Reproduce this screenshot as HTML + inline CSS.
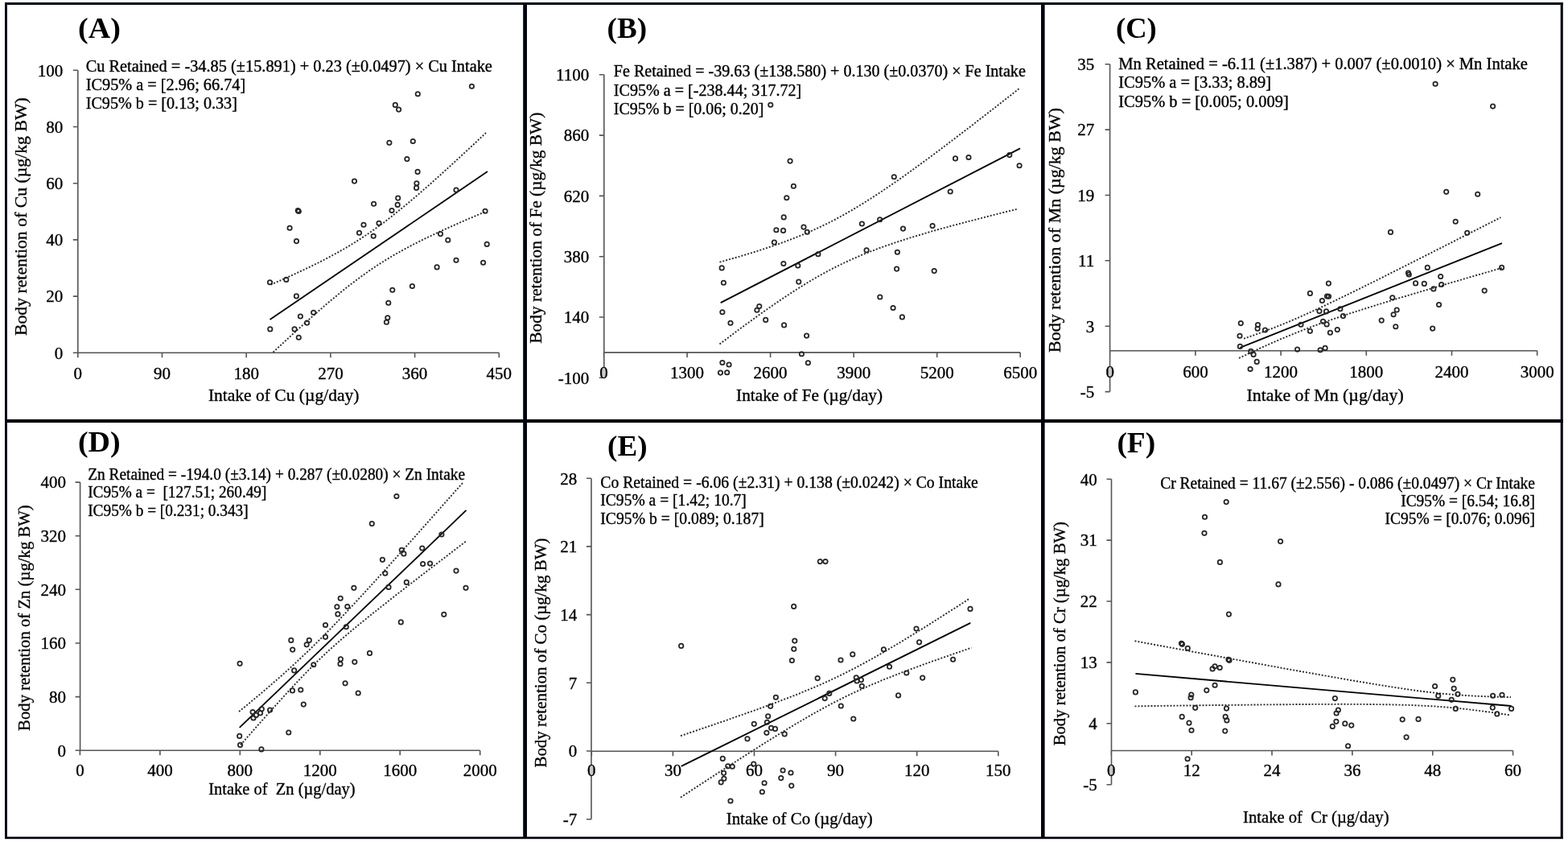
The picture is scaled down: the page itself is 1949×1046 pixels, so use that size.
<!DOCTYPE html>
<html><head><meta charset="utf-8"><title>Body retention vs intake</title>
<style>html,body{margin:0;padding:0;background:#fff;overflow:hidden}svg{display:block}</style>
</head><body>
<svg width="1949" height="1046" viewBox="0 0 1949 1046" font-family="'Liberation Serif','Times New Roman',serif" xml:space="preserve">
<rect width="1949" height="1046" fill="#fff"/>
<style>.t{stroke:#000;stroke-width:0.35px}</style>
<text x="97.1" y="47.0" font-size="35" font-weight="bold" textLength="52.9" lengthAdjust="spacingAndGlyphs">(A)</text>
<text x="106.7" y="88.9" font-size="20" textLength="505.2" lengthAdjust="spacingAndGlyphs" class="t">Cu Retained = -34.85 (±15.891) + 0.23 (±0.0497) × Cu Intake</text>
<text x="106.7" y="111.9" font-size="20" textLength="198.6" lengthAdjust="spacingAndGlyphs" class="t">IC95% a = [2.96; 66.74]</text>
<text x="106.7" y="134.9" font-size="20" textLength="188.2" lengthAdjust="spacingAndGlyphs" class="t">IC95% b = [0.13; 0.33]</text>
<path d="M96.8,87.3V438.3M90.8,438.3H96.8M90.8,368.1H96.8M90.8,297.9H96.8M90.8,227.7H96.8M90.8,157.5H96.8M90.8,87.3H96.8M96.8,438.3H620.3M96.8,438.3V444.3M201.5,438.3V444.3M306.2,438.3V444.3M410.9,438.3V444.3M515.6,438.3V444.3M620.3,438.3V444.3" stroke="#555" stroke-width="1.6" fill="none"/>
<text x="78.3" y="445.6" font-size="21" text-anchor="end" class="t">0</text>
<text x="78.3" y="375.4" font-size="21" text-anchor="end" class="t">20</text>
<text x="78.3" y="305.2" font-size="21" text-anchor="end" class="t">40</text>
<text x="78.3" y="235.0" font-size="21" text-anchor="end" class="t">60</text>
<text x="78.3" y="164.8" font-size="21" text-anchor="end" class="t">80</text>
<text x="78.3" y="94.6" font-size="21" text-anchor="end" class="t">100</text>
<text x="96.8" y="471.0" font-size="21" text-anchor="middle" class="t">0</text>
<text x="201.5" y="471.0" font-size="21" text-anchor="middle" class="t">90</text>
<text x="306.2" y="471.0" font-size="21" text-anchor="middle" class="t">180</text>
<text x="410.9" y="471.0" font-size="21" text-anchor="middle" class="t">270</text>
<text x="515.6" y="471.0" font-size="21" text-anchor="middle" class="t">360</text>
<text x="620.3" y="471.0" font-size="21" text-anchor="middle" class="t">450</text>
<text x="258.9" y="498.2" font-size="22" textLength="187.5" lengthAdjust="spacingAndGlyphs" class="t">Intake of Cu (µg/day)</text>
<text x="33.4" y="417.1" font-size="22" textLength="295.8" lengthAdjust="spacingAndGlyphs" transform="rotate(-90 33.4 417.1)" class="t">Body retention of Cu (µg/kg BW)</text>
<path d="M335.5,397.1L606,213.1" stroke="#000" stroke-width="1.8" fill="none"/>
<polyline points="336.5,353.7 341.0,351.7 345.6,349.7 350.1,347.7 354.6,345.7 359.2,343.7 363.7,341.6 368.2,339.5 372.8,337.4 377.3,335.3 381.8,333.1 386.4,330.9 390.9,328.7 395.4,326.5 400.0,324.2 404.5,321.8 409.0,319.5 413.6,317.0 418.1,314.6 422.6,312.0 427.2,309.5 431.7,306.8 436.2,304.1 440.8,301.3 445.3,298.4 449.8,295.5 454.4,292.5 458.9,289.4 463.4,286.3 468.0,283.0 472.5,279.7 477.1,276.4 481.6,272.9 486.1,269.4 490.7,265.8 495.2,262.2 499.7,258.5 504.3,254.8 508.8,251.0 513.3,247.2 517.9,243.3 522.4,239.4 526.9,235.4 531.5,231.5 536.0,227.5 540.5,223.4 545.1,219.4 549.6,215.3 554.1,211.2 558.7,207.1 563.2,202.9 567.7,198.8 572.3,194.6 576.8,190.4 581.3,186.2 585.9,182.0 590.4,177.8 594.9,173.5 599.5,169.3 604.0,165.0" stroke="#2a2a2a" stroke-width="1.9" fill="none" stroke-dasharray="2 2"/>
<polyline points="339.5,437.6 344.0,433.4 348.5,429.3 352.9,425.1 357.4,421.0 361.9,416.9 366.4,412.8 370.9,408.7 375.4,404.7 379.8,400.7 384.3,396.6 388.8,392.7 393.3,388.7 397.8,384.8 402.3,380.9 406.7,377.1 411.2,373.3 415.7,369.6 420.2,365.9 424.7,362.2 429.2,358.6 433.6,355.1 438.1,351.6 442.6,348.2 447.1,344.9 451.6,341.6 456.1,338.4 460.5,335.3 465.0,332.3 469.5,329.3 474.0,326.4 478.5,323.6 483.0,320.9 487.4,318.2 491.9,315.6 496.4,313.1 500.9,310.6 505.4,308.2 509.9,305.8 514.3,303.4 518.8,301.2 523.3,298.9 527.8,296.7 532.3,294.5 536.8,292.4 541.2,290.3 545.7,288.2 550.2,286.1 554.7,284.1 559.2,282.1 563.7,280.1 568.1,278.1 572.6,276.1 577.1,274.1 581.6,272.2 586.1,270.3 590.6,268.4 595.0,266.5 599.5,264.6 604.0,262.7" stroke="#2a2a2a" stroke-width="1.9" fill="none" stroke-dasharray="2 2"/>
<g fill="none" stroke="#262626" stroke-width="1.75">
<circle cx="586.4" cy="107.2" r="2.7"/>
<circle cx="519.3" cy="116.7" r="2.7"/>
<circle cx="491.3" cy="130.4" r="2.7"/>
<circle cx="495.6" cy="136.1" r="2.7"/>
<circle cx="483.9" cy="177.3" r="2.7"/>
<circle cx="513.3" cy="175.5" r="2.7"/>
<circle cx="505.9" cy="197.6" r="2.7"/>
<circle cx="519.1" cy="213.4" r="2.7"/>
<circle cx="440.5" cy="225.1" r="2.7"/>
<circle cx="517.9" cy="227.7" r="2.7"/>
<circle cx="517.6" cy="233.4" r="2.7"/>
<circle cx="567.0" cy="236.0" r="2.7"/>
<circle cx="494.7" cy="246.1" r="2.7"/>
<circle cx="494.2" cy="254.4" r="2.7"/>
<circle cx="464.6" cy="253.2" r="2.7"/>
<circle cx="487.0" cy="261.5" r="2.7"/>
<circle cx="370.3" cy="261.5" r="2.7"/>
<circle cx="371.3" cy="262.5" r="2.7"/>
<circle cx="603.1" cy="262.2" r="2.7"/>
<circle cx="360.1" cy="283.2" r="2.7"/>
<circle cx="452.0" cy="279.3" r="2.7"/>
<circle cx="471.0" cy="277.2" r="2.7"/>
<circle cx="446.5" cy="289.3" r="2.7"/>
<circle cx="464.2" cy="293.2" r="2.7"/>
<circle cx="368.5" cy="299.6" r="2.7"/>
<circle cx="547.5" cy="290.6" r="2.7"/>
<circle cx="556.8" cy="298.2" r="2.7"/>
<circle cx="605.2" cy="303.4" r="2.7"/>
<circle cx="567.0" cy="323.2" r="2.7"/>
<circle cx="600.6" cy="326.3" r="2.7"/>
<circle cx="543.1" cy="331.9" r="2.7"/>
<circle cx="335.5" cy="350.7" r="2.7"/>
<circle cx="355.8" cy="347.4" r="2.7"/>
<circle cx="512.4" cy="355.5" r="2.7"/>
<circle cx="487.8" cy="360.2" r="2.7"/>
<circle cx="368.4" cy="367.9" r="2.7"/>
<circle cx="482.8" cy="376.2" r="2.7"/>
<circle cx="373.4" cy="393.0" r="2.7"/>
<circle cx="389.7" cy="388.2" r="2.7"/>
<circle cx="481.8" cy="394.8" r="2.7"/>
<circle cx="480.4" cy="400.3" r="2.7"/>
<circle cx="381.6" cy="401.1" r="2.7"/>
<circle cx="335.8" cy="408.9" r="2.7"/>
<circle cx="366.1" cy="408.9" r="2.7"/>
<circle cx="371.3" cy="419.2" r="2.7"/>
</g>
<text x="754.6" y="46.6" font-size="35" font-weight="bold" textLength="49.5" lengthAdjust="spacingAndGlyphs">(B)</text>
<text x="762.8" y="95.3" font-size="20" textLength="512.0" lengthAdjust="spacingAndGlyphs" class="t">Fe Retained = -39.63 (±138.580) + 0.130 (±0.0370) × Fe Intake</text>
<text x="762.8" y="119.0" font-size="20" textLength="233.5" lengthAdjust="spacingAndGlyphs" class="t">IC95% a = [-238.44; 317.72]</text>
<text x="762.8" y="142.2" font-size="20" textLength="186.7" lengthAdjust="spacingAndGlyphs" class="t">IC95% b = [0.06; 0.20]</text>
<path d="M750.8,92.8V469.3M744.8,469.3H750.8M744.8,394.0H750.8M744.8,318.7H750.8M744.8,243.4H750.8M744.8,168.1H750.8M744.8,92.8H750.8M750.8,437.9H1268.2M750.6,437.9V443.9M854.1,437.9V443.9M957.6,437.9V443.9M1061.2,437.9V443.9M1164.7,437.9V443.9M1268.2,437.9V443.9" stroke="#555" stroke-width="1.6" fill="none"/>
<text x="732.2" y="476.6" font-size="21" text-anchor="end" class="t">-100</text>
<text x="732.2" y="401.3" font-size="21" text-anchor="end" class="t">140</text>
<text x="732.2" y="326.0" font-size="21" text-anchor="end" class="t">380</text>
<text x="732.2" y="250.7" font-size="21" text-anchor="end" class="t">620</text>
<text x="732.2" y="175.4" font-size="21" text-anchor="end" class="t">860</text>
<text x="732.2" y="100.1" font-size="21" text-anchor="end" class="t">1100</text>
<ellipse cx="750.6" cy="463.1" rx="3" ry="6" fill="#c8c8c8"/>
<text x="750.6" y="470.4" font-size="21" text-anchor="middle" class="t">0</text>
<text x="854.1" y="470.4" font-size="21" text-anchor="middle" class="t">1300</text>
<text x="957.6" y="470.4" font-size="21" text-anchor="middle" class="t">2600</text>
<text x="1061.2" y="470.4" font-size="21" text-anchor="middle" class="t">3900</text>
<text x="1164.7" y="470.4" font-size="21" text-anchor="middle" class="t">5200</text>
<text x="1268.2" y="470.4" font-size="21" text-anchor="middle" class="t">6500</text>
<text x="915.1" y="497.5" font-size="22" textLength="182.0" lengthAdjust="spacingAndGlyphs" class="t">Intake of Fe (µg/day)</text>
<text x="673.0" y="426.7" font-size="22" textLength="287.1" lengthAdjust="spacingAndGlyphs" transform="rotate(-90 673.0 426.7)" class="t">Body retention of Fe (µg/kg BW)</text>
<path d="M895.7,376.1L1268,184.4" stroke="#000" stroke-width="1.8" fill="none"/>
<polyline points="894.5,325.7 900.8,323.9 907.1,322.1 913.5,320.3 919.8,318.5 926.1,316.6 932.4,314.7 938.8,312.7 945.1,310.7 951.4,308.6 957.7,306.5 964.0,304.4 970.4,302.1 976.7,299.8 983.0,297.4 989.3,295.0 995.7,292.4 1002.0,289.8 1008.3,287.0 1014.6,284.2 1020.9,281.2 1027.3,278.2 1033.6,275.0 1039.9,271.7 1046.2,268.2 1052.6,264.7 1058.9,261.1 1065.2,257.3 1071.5,253.5 1077.8,249.5 1084.2,245.5 1090.5,241.4 1096.8,237.2 1103.1,232.9 1109.4,228.6 1115.8,224.2 1122.1,219.8 1128.4,215.3 1134.7,210.7 1141.1,206.1 1147.4,201.5 1153.7,196.9 1160.0,192.2 1166.3,187.5 1172.7,182.7 1179.0,177.9 1185.3,173.1 1191.6,168.3 1198.0,163.5 1204.3,158.7 1210.6,153.8 1216.9,148.9 1223.2,144.0 1229.6,139.1 1235.9,134.2 1242.2,129.3 1248.5,124.4 1254.9,119.4 1261.2,114.5 1267.5,109.5" stroke="#2a2a2a" stroke-width="1.9" fill="none" stroke-dasharray="2 2"/>
<polyline points="894.5,427.4 900.8,422.7 907.1,418.0 913.3,413.3 919.6,408.6 925.9,404.0 932.2,399.4 938.5,394.9 944.7,390.4 951.0,385.9 957.3,381.5 963.6,377.2 969.9,372.9 976.1,368.7 982.4,364.6 988.7,360.5 995.0,356.5 1001.3,352.6 1007.5,348.9 1013.8,345.2 1020.1,341.6 1026.4,338.2 1032.7,334.8 1038.9,331.6 1045.2,328.5 1051.5,325.5 1057.8,322.6 1064.1,319.8 1070.3,317.2 1076.6,314.6 1082.9,312.1 1089.2,309.7 1095.4,307.4 1101.7,305.2 1108.0,303.0 1114.3,300.9 1120.6,298.8 1126.8,296.8 1133.1,294.9 1139.4,293.0 1145.7,291.1 1152.0,289.2 1158.2,287.4 1164.5,285.6 1170.8,283.9 1177.1,282.2 1183.4,280.4 1189.6,278.8 1195.9,277.1 1202.2,275.4 1208.5,273.8 1214.8,272.2 1221.0,270.6 1227.3,269.0 1233.6,267.4 1239.9,265.8 1246.2,264.2 1252.4,262.7 1258.7,261.1 1265.0,259.6" stroke="#2a2a2a" stroke-width="1.9" fill="none" stroke-dasharray="2 2"/>
<g fill="none" stroke="#262626" stroke-width="1.75">
<circle cx="957.8" cy="130.2" r="2.7"/>
<circle cx="982.1" cy="200.1" r="2.7"/>
<circle cx="986.4" cy="231.2" r="2.7"/>
<circle cx="977.8" cy="245.7" r="2.7"/>
<circle cx="974.2" cy="269.9" r="2.7"/>
<circle cx="964.9" cy="285.7" r="2.7"/>
<circle cx="973.6" cy="286.4" r="2.7"/>
<circle cx="999.0" cy="282.1" r="2.7"/>
<circle cx="1003.3" cy="288.2" r="2.7"/>
<circle cx="962.4" cy="301.1" r="2.7"/>
<circle cx="1016.9" cy="315.8" r="2.7"/>
<circle cx="973.9" cy="327.5" r="2.7"/>
<circle cx="991.8" cy="330.0" r="2.7"/>
<circle cx="992.8" cy="350.1" r="2.7"/>
<circle cx="897.2" cy="332.9" r="2.7"/>
<circle cx="899.4" cy="351.3" r="2.7"/>
<circle cx="897.9" cy="387.8" r="2.7"/>
<circle cx="908.0" cy="401.3" r="2.7"/>
<circle cx="943.8" cy="380.5" r="2.7"/>
<circle cx="940.9" cy="385.2" r="2.7"/>
<circle cx="951.7" cy="397.4" r="2.7"/>
<circle cx="974.6" cy="403.9" r="2.7"/>
<circle cx="1002.6" cy="417.1" r="2.7"/>
<circle cx="996.4" cy="439.7" r="2.7"/>
<circle cx="1004.4" cy="450.8" r="2.7"/>
<circle cx="897.9" cy="450.5" r="2.7"/>
<circle cx="906.1" cy="453.0" r="2.7"/>
<circle cx="895.5" cy="463.1" r="2.7"/>
<circle cx="903.7" cy="462.7" r="2.7"/>
<circle cx="1071.4" cy="278.0" r="2.7"/>
<circle cx="1077.1" cy="310.9" r="2.7"/>
<circle cx="1111.3" cy="219.7" r="2.7"/>
<circle cx="1187.5" cy="196.9" r="2.7"/>
<circle cx="1204.0" cy="195.5" r="2.7"/>
<circle cx="1254.8" cy="192.6" r="2.7"/>
<circle cx="1267.1" cy="205.7" r="2.7"/>
<circle cx="1181.2" cy="238.0" r="2.7"/>
<circle cx="1093.7" cy="272.7" r="2.7"/>
<circle cx="1122.5" cy="284.1" r="2.7"/>
<circle cx="1159.1" cy="280.6" r="2.7"/>
<circle cx="1115.4" cy="313.3" r="2.7"/>
<circle cx="1114.6" cy="334.1" r="2.7"/>
<circle cx="1161.2" cy="336.6" r="2.7"/>
<circle cx="1093.8" cy="369.0" r="2.7"/>
<circle cx="1110.1" cy="382.5" r="2.7"/>
<circle cx="1121.4" cy="393.9" r="2.7"/>
</g>
<text x="1387.0" y="46.8" font-size="35" font-weight="bold" textLength="50.8" lengthAdjust="spacingAndGlyphs">(C)</text>
<text x="1390.3" y="86.0" font-size="20" textLength="508.6" lengthAdjust="spacingAndGlyphs" class="t">Mn Retained = -6.11 (±1.387) + 0.007 (±0.0010) × Mn Intake</text>
<text x="1390.3" y="109.1" font-size="20" textLength="189.8" lengthAdjust="spacingAndGlyphs" class="t">IC95% a = [3.33; 8.89]</text>
<text x="1390.3" y="132.7" font-size="20" textLength="211.4" lengthAdjust="spacingAndGlyphs" class="t">IC95% b = [0.005; 0.009]</text>
<path d="M1379.6,79.8V486.6M1373.6,486.6H1379.6M1373.6,405.2H1379.6M1373.6,323.8H1379.6M1373.6,242.5H1379.6M1373.6,161.1H1379.6M1373.6,79.8H1379.6M1379.6,435.7H1910.7M1379.7,435.7V441.7M1485.9,435.7V441.7M1592.1,435.7V441.7M1698.3,435.7V441.7M1804.5,435.7V441.7M1910.7,435.7V441.7" stroke="#555" stroke-width="1.6" fill="none"/>
<text x="1360.2" y="493.9" font-size="21" text-anchor="end" class="t">-5</text>
<text x="1360.2" y="412.5" font-size="21" text-anchor="end" class="t">3</text>
<text x="1360.2" y="331.1" font-size="21" text-anchor="end" class="t">11</text>
<text x="1360.2" y="249.8" font-size="21" text-anchor="end" class="t">19</text>
<text x="1360.2" y="168.4" font-size="21" text-anchor="end" class="t">27</text>
<text x="1360.2" y="87.0" font-size="21" text-anchor="end" class="t">35</text>
<ellipse cx="1379.7" cy="461.2" rx="3" ry="6" fill="#c8c8c8"/>
<text x="1379.7" y="468.5" font-size="21" text-anchor="middle" class="t">0</text>
<text x="1485.9" y="468.5" font-size="21" text-anchor="middle" class="t">600</text>
<text x="1592.1" y="468.5" font-size="21" text-anchor="middle" class="t">1200</text>
<text x="1698.3" y="468.5" font-size="21" text-anchor="middle" class="t">1800</text>
<text x="1804.5" y="468.5" font-size="21" text-anchor="middle" class="t">2400</text>
<text x="1910.7" y="468.5" font-size="21" text-anchor="middle" class="t">3000</text>
<text x="1549.6" y="497.5" font-size="22" textLength="195.1" lengthAdjust="spacingAndGlyphs" class="t">Intake of Mn (µg/day)</text>
<text x="1317.8" y="437.9" font-size="22" textLength="303.9" lengthAdjust="spacingAndGlyphs" transform="rotate(-90 1317.8 437.9)" class="t">Body retention of Mn (µg/kg BW)</text>
<path d="M1541.4,431.9L1867,302.1" stroke="#000" stroke-width="1.8" fill="none"/>
<polyline points="1546.0,420.7 1551.4,418.9 1556.8,417.0 1562.2,415.1 1567.7,413.1 1573.1,411.1 1578.5,409.0 1583.9,407.0 1589.3,404.8 1594.7,402.6 1600.2,400.4 1605.6,398.1 1611.0,395.8 1616.4,393.4 1621.8,391.0 1627.2,388.6 1632.6,386.1 1638.1,383.6 1643.5,381.1 1648.9,378.5 1654.3,375.9 1659.7,373.4 1665.1,370.7 1670.6,368.1 1676.0,365.5 1681.4,362.8 1686.8,360.2 1692.2,357.5 1697.6,354.8 1703.0,352.1 1708.5,349.5 1713.9,346.8 1719.3,344.1 1724.7,341.3 1730.1,338.6 1735.5,335.9 1740.9,333.2 1746.4,330.5 1751.8,327.7 1757.2,325.0 1762.6,322.3 1768.0,319.6 1773.4,316.8 1778.9,314.1 1784.3,311.3 1789.7,308.6 1795.1,305.8 1800.5,303.1 1805.9,300.4 1811.3,297.6 1816.8,294.8 1822.2,292.1 1827.6,289.3 1833.0,286.6 1838.4,283.8 1843.8,281.1 1849.3,278.3 1854.7,275.6 1860.1,272.8 1865.5,270.0" stroke="#2a2a2a" stroke-width="1.9" fill="none" stroke-dasharray="2 2"/>
<polyline points="1540.0,444.9 1545.5,442.3 1551.1,439.7 1556.6,437.1 1562.2,434.5 1567.7,432.0 1573.3,429.5 1578.8,427.0 1584.3,424.6 1589.9,422.2 1595.4,419.8 1601.0,417.5 1606.5,415.3 1612.1,413.0 1617.6,410.8 1623.1,408.7 1628.7,406.6 1634.2,404.5 1639.8,402.5 1645.3,400.5 1650.8,398.6 1656.4,396.6 1661.9,394.8 1667.5,392.9 1673.0,391.1 1678.6,389.2 1684.1,387.4 1689.6,385.7 1695.2,383.9 1700.7,382.2 1706.3,380.4 1711.8,378.7 1717.4,377.0 1722.9,375.3 1728.4,373.6 1734.0,371.9 1739.5,370.2 1745.1,368.6 1750.6,366.9 1756.2,365.2 1761.7,363.6 1767.2,361.9 1772.8,360.3 1778.3,358.7 1783.9,357.0 1789.4,355.4 1794.9,353.8 1800.5,352.1 1806.0,350.5 1811.6,348.9 1817.1,347.3 1822.7,345.6 1828.2,344.0 1833.7,342.4 1839.3,340.8 1844.8,339.2 1850.4,337.6 1855.9,336.0 1861.5,334.4 1867.0,332.8" stroke="#2a2a2a" stroke-width="1.9" fill="none" stroke-dasharray="2 2"/>
<g fill="none" stroke="#262626" stroke-width="1.75">
<circle cx="1784.1" cy="104.2" r="2.7"/>
<circle cx="1855.6" cy="132.1" r="2.7"/>
<circle cx="1797.7" cy="238.3" r="2.7"/>
<circle cx="1836.7" cy="241.2" r="2.7"/>
<circle cx="1809.2" cy="275.3" r="2.7"/>
<circle cx="1728.5" cy="288.4" r="2.7"/>
<circle cx="1823.7" cy="289.3" r="2.7"/>
<circle cx="1774.3" cy="332.4" r="2.7"/>
<circle cx="1750.5" cy="339.0" r="2.7"/>
<circle cx="1751.3" cy="341.0" r="2.7"/>
<circle cx="1790.7" cy="343.5" r="2.7"/>
<circle cx="1759.6" cy="351.9" r="2.7"/>
<circle cx="1770.3" cy="352.4" r="2.7"/>
<circle cx="1791.7" cy="353.5" r="2.7"/>
<circle cx="1781.9" cy="358.9" r="2.7"/>
<circle cx="1866.6" cy="332.4" r="2.7"/>
<circle cx="1845.2" cy="361.1" r="2.7"/>
<circle cx="1730.8" cy="369.8" r="2.7"/>
<circle cx="1788.6" cy="378.5" r="2.7"/>
<circle cx="1736.2" cy="385.0" r="2.7"/>
<circle cx="1732.1" cy="390.7" r="2.7"/>
<circle cx="1717.2" cy="398.1" r="2.7"/>
<circle cx="1734.8" cy="405.7" r="2.7"/>
<circle cx="1780.7" cy="408.1" r="2.7"/>
<circle cx="1651.4" cy="352.1" r="2.7"/>
<circle cx="1628.4" cy="364.4" r="2.7"/>
<circle cx="1649.5" cy="368.0" r="2.7"/>
<circle cx="1651.5" cy="368.2" r="2.7"/>
<circle cx="1643.4" cy="373.5" r="2.7"/>
<circle cx="1640.0" cy="386.6" r="2.7"/>
<circle cx="1648.5" cy="386.9" r="2.7"/>
<circle cx="1665.9" cy="383.8" r="2.7"/>
<circle cx="1669.5" cy="392.6" r="2.7"/>
<circle cx="1617.0" cy="403.3" r="2.7"/>
<circle cx="1644.5" cy="399.3" r="2.7"/>
<circle cx="1649.1" cy="402.9" r="2.7"/>
<circle cx="1628.4" cy="411.2" r="2.7"/>
<circle cx="1653.4" cy="413.2" r="2.7"/>
<circle cx="1662.3" cy="409.6" r="2.7"/>
<circle cx="1542.3" cy="401.6" r="2.7"/>
<circle cx="1563.5" cy="403.6" r="2.7"/>
<circle cx="1563.1" cy="408.3" r="2.7"/>
<circle cx="1572.5" cy="410.0" r="2.7"/>
<circle cx="1541.0" cy="417.3" r="2.7"/>
<circle cx="1541.4" cy="430.4" r="2.7"/>
<circle cx="1554.8" cy="436.4" r="2.7"/>
<circle cx="1558.1" cy="440.4" r="2.7"/>
<circle cx="1562.2" cy="449.4" r="2.7"/>
<circle cx="1554.1" cy="458.5" r="2.7"/>
<circle cx="1612.6" cy="434.1" r="2.7"/>
<circle cx="1641.1" cy="434.7" r="2.7"/>
<circle cx="1647.1" cy="432.4" r="2.7"/>
</g>
<text x="96.9" y="561.0" font-size="35" font-weight="bold" textLength="52.7" lengthAdjust="spacingAndGlyphs">(D)</text>
<text x="109.2" y="595.6" font-size="20" textLength="468.8" lengthAdjust="spacingAndGlyphs" class="t">Zn Retained = -194.0 (±3.14) + 0.287 (±0.0280) × Zn Intake</text>
<text x="109.2" y="617.8" font-size="20" textLength="222.2" lengthAdjust="spacingAndGlyphs" class="t">IC95% a = &#160;[127.51; 260.49]</text>
<text x="109.2" y="640.5" font-size="20" textLength="199.5" lengthAdjust="spacingAndGlyphs" class="t">IC95% b = [0.231; 0.343]</text>
<path d="M99.6,599.1V932.2M93.6,932.2H99.6M93.6,865.6H99.6M93.6,799.0H99.6M93.6,732.3H99.6M93.6,665.7H99.6M93.6,599.1H99.6M99.6,932.2H596.7M99.4,932.2V938.2M198.9,932.2V938.2M298.3,932.2V938.2M397.8,932.2V938.2M497.2,932.2V938.2M596.7,932.2V938.2" stroke="#555" stroke-width="1.6" fill="none"/>
<text x="82.1" y="939.5" font-size="21" text-anchor="end" class="t">0</text>
<text x="82.1" y="872.9" font-size="21" text-anchor="end" class="t">80</text>
<text x="82.1" y="806.3" font-size="21" text-anchor="end" class="t">160</text>
<text x="82.1" y="739.6" font-size="21" text-anchor="end" class="t">240</text>
<text x="82.1" y="673.0" font-size="21" text-anchor="end" class="t">320</text>
<text x="82.1" y="606.4" font-size="21" text-anchor="end" class="t">400</text>
<text x="99.4" y="963.6" font-size="21" text-anchor="middle" class="t">0</text>
<text x="198.9" y="963.6" font-size="21" text-anchor="middle" class="t">400</text>
<text x="298.3" y="963.6" font-size="21" text-anchor="middle" class="t">800</text>
<text x="397.8" y="963.6" font-size="21" text-anchor="middle" class="t">1200</text>
<text x="497.2" y="963.6" font-size="21" text-anchor="middle" class="t">1600</text>
<text x="596.7" y="963.6" font-size="21" text-anchor="middle" class="t">2000</text>
<text x="259.2" y="987.2" font-size="22" textLength="182.4" lengthAdjust="spacingAndGlyphs" class="t">Intake of &#160;Zn (µg/day)</text>
<text x="37.5" y="907.9" font-size="22" textLength="280.6" lengthAdjust="spacingAndGlyphs" transform="rotate(-90 37.5 907.9)" class="t">Body retention of Zn (µg/kg BW)</text>
<path d="M297.7,903.8L579.5,633.9" stroke="#000" stroke-width="1.8" fill="none"/>
<polyline points="297.0,884.1 301.7,880.2 306.5,876.3 311.2,872.4 315.9,868.5 320.6,864.5 325.4,860.6 330.1,856.6 334.8,852.5 339.5,848.4 344.3,844.3 349.0,840.2 353.7,836.0 358.4,831.7 363.2,827.4 367.9,823.1 372.6,818.7 377.3,814.2 382.1,809.7 386.8,805.1 391.5,800.5 396.2,795.8 401.0,791.1 405.7,786.3 410.4,781.5 415.1,776.6 419.9,771.7 424.6,766.7 429.3,761.7 434.0,756.7 438.8,751.6 443.5,746.5 448.2,741.4 452.9,736.3 457.7,731.1 462.4,725.9 467.1,720.8 471.8,715.6 476.6,710.3 481.3,705.1 486.0,699.9 490.7,694.6 495.5,689.4 500.2,684.1 504.9,678.8 509.6,673.5 514.4,668.2 519.1,662.9 523.8,657.6 528.5,652.3 533.3,647.0 538.0,641.7 542.7,636.4 547.4,631.0 552.2,625.7 556.9,620.4 561.6,615.1 566.3,609.7 571.1,604.4 575.8,599.0" stroke="#2a2a2a" stroke-width="1.9" fill="none" stroke-dasharray="2 2"/>
<polyline points="299.0,925.3 303.8,919.9 308.5,914.5 313.3,909.1 318.1,903.7 322.8,898.4 327.6,893.0 332.3,887.7 337.1,882.4 341.9,877.1 346.6,871.8 351.4,866.6 356.2,861.4 360.9,856.2 365.7,851.1 370.4,846.1 375.2,841.1 380.0,836.1 384.7,831.3 389.5,826.5 394.3,821.8 399.0,817.3 403.8,812.7 408.5,808.3 413.3,804.0 418.1,799.8 422.8,795.6 427.6,791.5 432.4,787.4 437.1,783.4 441.9,779.4 446.6,775.5 451.4,771.7 456.2,767.8 460.9,764.0 465.7,760.2 470.5,756.4 475.2,752.6 480.0,748.9 484.7,745.1 489.5,741.4 494.3,737.7 499.0,734.0 503.8,730.3 508.6,726.6 513.3,723.0 518.1,719.3 522.8,715.6 527.6,711.9 532.4,708.3 537.1,704.6 541.9,701.0 546.7,697.3 551.4,693.7 556.2,690.1 560.9,686.4 565.7,682.8 570.5,679.1 575.2,675.5 580.0,671.9" stroke="#2a2a2a" stroke-width="1.9" fill="none" stroke-dasharray="2 2"/>
<g fill="none" stroke="#262626" stroke-width="1.75">
<circle cx="492.9" cy="616.5" r="2.7"/>
<circle cx="462.3" cy="650.6" r="2.7"/>
<circle cx="548.9" cy="664.0" r="2.7"/>
<circle cx="524.8" cy="681.0" r="2.7"/>
<circle cx="499.3" cy="683.3" r="2.7"/>
<circle cx="501.9" cy="687.9" r="2.7"/>
<circle cx="475.4" cy="695.3" r="2.7"/>
<circle cx="525.6" cy="700.5" r="2.7"/>
<circle cx="534.6" cy="700.0" r="2.7"/>
<circle cx="567.0" cy="709.1" r="2.7"/>
<circle cx="478.8" cy="712.2" r="2.7"/>
<circle cx="505.3" cy="723.4" r="2.7"/>
<circle cx="483.0" cy="729.4" r="2.7"/>
<circle cx="439.9" cy="730.3" r="2.7"/>
<circle cx="579.0" cy="730.3" r="2.7"/>
<circle cx="423.2" cy="743.2" r="2.7"/>
<circle cx="418.9" cy="753.8" r="2.7"/>
<circle cx="431.8" cy="753.5" r="2.7"/>
<circle cx="419.9" cy="762.9" r="2.7"/>
<circle cx="404.5" cy="776.5" r="2.7"/>
<circle cx="404.5" cy="791.3" r="2.7"/>
<circle cx="430.3" cy="778.7" r="2.7"/>
<circle cx="361.8" cy="795.4" r="2.7"/>
<circle cx="384.3" cy="795.4" r="2.7"/>
<circle cx="381.2" cy="800.8" r="2.7"/>
<circle cx="363.7" cy="807.1" r="2.7"/>
<circle cx="459.5" cy="811.4" r="2.7"/>
<circle cx="423.4" cy="818.8" r="2.7"/>
<circle cx="423.0" cy="824.7" r="2.7"/>
<circle cx="440.8" cy="822.3" r="2.7"/>
<circle cx="298.1" cy="824.3" r="2.7"/>
<circle cx="365.7" cy="832.9" r="2.7"/>
<circle cx="389.8" cy="825.7" r="2.7"/>
<circle cx="429.1" cy="848.8" r="2.7"/>
<circle cx="363.5" cy="857.9" r="2.7"/>
<circle cx="373.8" cy="857.0" r="2.7"/>
<circle cx="445.2" cy="861.0" r="2.7"/>
<circle cx="377.3" cy="875.1" r="2.7"/>
<circle cx="314.1" cy="884.6" r="2.7"/>
<circle cx="325.3" cy="880.8" r="2.7"/>
<circle cx="323.6" cy="885.8" r="2.7"/>
<circle cx="318.4" cy="888.4" r="2.7"/>
<circle cx="315.0" cy="892.0" r="2.7"/>
<circle cx="335.6" cy="882.0" r="2.7"/>
<circle cx="358.8" cy="910.0" r="2.7"/>
<circle cx="297.7" cy="914.4" r="2.7"/>
<circle cx="298.6" cy="925.4" r="2.7"/>
<circle cx="324.9" cy="930.9" r="2.7"/>
<circle cx="498.3" cy="772.9" r="2.7"/>
<circle cx="551.8" cy="763.3" r="2.7"/>
</g>
<text x="755.1" y="566.0" font-size="35" font-weight="bold" textLength="49.5" lengthAdjust="spacingAndGlyphs">(E)</text>
<text x="746.3" y="605.6" font-size="20" textLength="469.5" lengthAdjust="spacingAndGlyphs" class="t">Co Retained = -6.06 (±2.31) + 0.138 (±0.0242) × Co Intake</text>
<text x="746.3" y="628.3" font-size="20" textLength="181.6" lengthAdjust="spacingAndGlyphs" class="t">IC95% a = [1.42; 10.7]</text>
<text x="746.3" y="651.1" font-size="20" textLength="203.5" lengthAdjust="spacingAndGlyphs" class="t">IC95% b = [0.089; 0.187]</text>
<path d="M735.0,594.2V1017.7M729.0,1017.7H735.0M729.0,933.0H735.0M729.0,848.3H735.0M729.0,763.6H735.0M729.0,678.9H735.0M729.0,594.2H735.0M735.0,933.3H1240.8M735.3,933.3V939.3M836.4,933.3V939.3M937.5,933.3V939.3M1038.6,933.3V939.3M1139.7,933.3V939.3M1240.8,933.3V939.3" stroke="#555" stroke-width="1.6" fill="none"/>
<text x="717.2" y="1025.0" font-size="21" text-anchor="end" class="t">-7</text>
<text x="717.2" y="940.3" font-size="21" text-anchor="end" class="t">0</text>
<text x="717.2" y="855.6" font-size="21" text-anchor="end" class="t">7</text>
<text x="717.2" y="770.9" font-size="21" text-anchor="end" class="t">14</text>
<text x="717.2" y="686.2" font-size="21" text-anchor="end" class="t">21</text>
<text x="717.2" y="601.5" font-size="21" text-anchor="end" class="t">28</text>
<ellipse cx="735.3" cy="957.1" rx="3" ry="6" fill="#c8c8c8"/>
<text x="735.3" y="964.4" font-size="21" text-anchor="middle" class="t">0</text>
<text x="836.4" y="964.4" font-size="21" text-anchor="middle" class="t">30</text>
<text x="937.5" y="964.4" font-size="21" text-anchor="middle" class="t">60</text>
<text x="1038.6" y="964.4" font-size="21" text-anchor="middle" class="t">90</text>
<text x="1139.7" y="964.4" font-size="21" text-anchor="middle" class="t">120</text>
<text x="1240.8" y="964.4" font-size="21" text-anchor="middle" class="t">150</text>
<text x="902.7" y="1024.1" font-size="22" textLength="182.0" lengthAdjust="spacingAndGlyphs" class="t">Intake of Co (µg/day)</text>
<text x="679.0" y="953.6" font-size="22" textLength="285.1" lengthAdjust="spacingAndGlyphs" transform="rotate(-90 679.0 953.6)" class="t">Body retention of Co (µg/kg BW)</text>
<path d="M846.8,951.9L1206.3,773.9" stroke="#000" stroke-width="1.8" fill="none"/>
<polyline points="846.0,914.1 852.1,912.1 858.1,910.0 864.2,908.0 870.3,905.9 876.3,903.9 882.4,901.8 888.5,899.7 894.5,897.6 900.6,895.6 906.7,893.4 912.7,891.3 918.8,889.2 924.9,887.1 930.9,884.9 937.0,882.8 943.1,880.6 949.2,878.4 955.2,876.2 961.3,873.9 967.4,871.6 973.4,869.3 979.5,867.0 985.6,864.7 991.6,862.3 997.7,859.8 1003.8,857.3 1009.8,854.8 1015.9,852.2 1022.0,849.5 1028.0,846.8 1034.1,844.0 1040.2,841.1 1046.2,838.2 1052.3,835.2 1058.4,832.1 1064.4,829.0 1070.5,825.7 1076.6,822.4 1082.6,819.1 1088.7,815.7 1094.8,812.2 1100.8,808.7 1106.9,805.1 1113.0,801.5 1119.1,797.9 1125.1,794.2 1131.2,790.5 1137.3,786.7 1143.3,783.0 1149.4,779.2 1155.5,775.4 1161.5,771.5 1167.6,767.7 1173.7,763.8 1179.7,759.9 1185.8,756.1 1191.9,752.2 1197.9,748.3 1204.0,744.3" stroke="#2a2a2a" stroke-width="1.9" fill="none" stroke-dasharray="2 2"/>
<polyline points="846.0,990.7 852.1,986.6 858.3,982.6 864.4,978.6 870.5,974.6 876.6,970.6 882.8,966.6 888.9,962.6 895.0,958.6 901.1,954.7 907.3,950.7 913.4,946.8 919.5,942.8 925.7,938.9 931.8,935.0 937.9,931.1 944.0,927.2 950.2,923.3 956.3,919.5 962.4,915.7 968.5,911.9 974.7,908.1 980.8,904.4 986.9,900.7 993.1,897.1 999.2,893.5 1005.3,889.9 1011.4,886.4 1017.6,883.0 1023.7,879.6 1029.8,876.3 1035.9,873.1 1042.1,869.9 1048.2,866.8 1054.3,863.8 1060.4,860.9 1066.6,858.1 1072.7,855.3 1078.8,852.6 1085.0,849.9 1091.1,847.4 1097.2,844.8 1103.3,842.4 1109.5,840.0 1115.6,837.6 1121.7,835.2 1127.8,832.9 1134.0,830.6 1140.1,828.4 1146.2,826.1 1152.4,823.9 1158.5,821.7 1164.6,819.6 1170.7,817.4 1176.9,815.3 1183.0,813.1 1189.1,811.0 1195.2,808.9 1201.4,806.8 1207.5,804.7" stroke="#2a2a2a" stroke-width="1.9" fill="none" stroke-dasharray="2 2"/>
<g fill="none" stroke="#262626" stroke-width="1.75">
<circle cx="1019.3" cy="697.6" r="2.7"/>
<circle cx="1026.0" cy="697.6" r="2.7"/>
<circle cx="986.7" cy="753.4" r="2.7"/>
<circle cx="846.7" cy="802.4" r="2.7"/>
<circle cx="987.8" cy="796.1" r="2.7"/>
<circle cx="986.8" cy="806.2" r="2.7"/>
<circle cx="984.4" cy="820.5" r="2.7"/>
<circle cx="1016.2" cy="842.6" r="2.7"/>
<circle cx="964.4" cy="866.2" r="2.7"/>
<circle cx="957.7" cy="877.3" r="2.7"/>
<circle cx="1025.2" cy="867.6" r="2.7"/>
<circle cx="1030.8" cy="861.4" r="2.7"/>
<circle cx="1045.0" cy="820.0" r="2.7"/>
<circle cx="1059.8" cy="812.9" r="2.7"/>
<circle cx="1098.4" cy="806.7" r="2.7"/>
<circle cx="1064.3" cy="841.7" r="2.7"/>
<circle cx="1065.1" cy="846.0" r="2.7"/>
<circle cx="1070.4" cy="844.6" r="2.7"/>
<circle cx="1071.3" cy="852.3" r="2.7"/>
<circle cx="1045.3" cy="877.0" r="2.7"/>
<circle cx="1060.8" cy="893.0" r="2.7"/>
<circle cx="954.7" cy="889.8" r="2.7"/>
<circle cx="953.4" cy="897.2" r="2.7"/>
<circle cx="937.3" cy="899.3" r="2.7"/>
<circle cx="958.6" cy="904.3" r="2.7"/>
<circle cx="963.5" cy="905.4" r="2.7"/>
<circle cx="952.9" cy="910.3" r="2.7"/>
<circle cx="975.2" cy="911.9" r="2.7"/>
<circle cx="929.0" cy="917.8" r="2.7"/>
<circle cx="898.3" cy="942.4" r="2.7"/>
<circle cx="936.8" cy="949.1" r="2.7"/>
<circle cx="904.8" cy="951.8" r="2.7"/>
<circle cx="910.3" cy="952.2" r="2.7"/>
<circle cx="899.6" cy="960.3" r="2.7"/>
<circle cx="899.9" cy="967.2" r="2.7"/>
<circle cx="896.2" cy="971.8" r="2.7"/>
<circle cx="973.1" cy="957.0" r="2.7"/>
<circle cx="983.0" cy="960.0" r="2.7"/>
<circle cx="970.8" cy="966.6" r="2.7"/>
<circle cx="950.1" cy="972.7" r="2.7"/>
<circle cx="983.8" cy="976.1" r="2.7"/>
<circle cx="947.4" cy="983.7" r="2.7"/>
<circle cx="908.0" cy="995.0" r="2.7"/>
<circle cx="1206.0" cy="756.4" r="2.7"/>
<circle cx="1139.0" cy="781.0" r="2.7"/>
<circle cx="1142.6" cy="797.8" r="2.7"/>
<circle cx="1105.6" cy="828.2" r="2.7"/>
<circle cx="1184.6" cy="819.2" r="2.7"/>
<circle cx="1126.8" cy="836.0" r="2.7"/>
<circle cx="1146.7" cy="842.1" r="2.7"/>
<circle cx="1116.6" cy="863.9" r="2.7"/>
</g>
<text x="1388.4" y="561.8" font-size="35" font-weight="bold" textLength="47.8" lengthAdjust="spacingAndGlyphs">(F)</text>
<text x="1442.2" y="606.5" font-size="20" textLength="465.8" lengthAdjust="spacingAndGlyphs" class="t">Cr Retained = 11.67 (±2.556) - 0.086 (±0.0497) × Cr Intake</text>
<text x="1741.2" y="628.6" font-size="20" textLength="166.8" lengthAdjust="spacingAndGlyphs" class="t">IC95% = [6.54; 16.8]</text>
<text x="1721.5" y="651.4" font-size="20" textLength="186.5" lengthAdjust="spacingAndGlyphs" class="t">IC95% = [0.076; 0.096]</text>
<path d="M1381.5,595.2V974.7M1375.5,974.7H1381.5M1375.5,898.8H1381.5M1375.5,822.9H1381.5M1375.5,747.0H1381.5M1375.5,671.1H1381.5M1375.5,595.2H1381.5M1381.5,932.5H1880.6M1381.3,932.5V938.5M1481.2,932.5V938.5M1581.0,932.5V938.5M1680.9,932.5V938.5M1780.8,932.5V938.5M1880.6,932.5V938.5" stroke="#555" stroke-width="1.6" fill="none"/>
<text x="1363.8" y="982.0" font-size="21" text-anchor="end" class="t">-5</text>
<text x="1363.8" y="906.1" font-size="21" text-anchor="end" class="t">4</text>
<text x="1363.8" y="830.2" font-size="21" text-anchor="end" class="t">13</text>
<text x="1363.8" y="754.3" font-size="21" text-anchor="end" class="t">22</text>
<text x="1363.8" y="678.4" font-size="21" text-anchor="end" class="t">31</text>
<text x="1363.8" y="602.5" font-size="21" text-anchor="end" class="t">40</text>
<ellipse cx="1381.3" cy="956.2" rx="3" ry="6" fill="#c8c8c8"/>
<text x="1381.3" y="963.5" font-size="21" text-anchor="middle" class="t">0</text>
<text x="1481.2" y="963.5" font-size="21" text-anchor="middle" class="t">12</text>
<text x="1581.0" y="963.5" font-size="21" text-anchor="middle" class="t">24</text>
<text x="1680.9" y="963.5" font-size="21" text-anchor="middle" class="t">36</text>
<text x="1780.8" y="963.5" font-size="21" text-anchor="middle" class="t">48</text>
<text x="1880.6" y="963.5" font-size="21" text-anchor="middle" class="t">60</text>
<text x="1545.1" y="1022.1" font-size="22" textLength="181.4" lengthAdjust="spacingAndGlyphs" class="t">Intake of &#160;Cr (µg/day)</text>
<text x="1324.4" y="926.3" font-size="22" textLength="278.2" lengthAdjust="spacingAndGlyphs" transform="rotate(-90 1324.4 926.3)" class="t">Body retention of Cr (µg/kg BW)</text>
<path d="M1411.4,836.9L1878.6,877" stroke="#000" stroke-width="1.8" fill="none"/>
<polyline points="1410.5,796.3 1418.4,797.8 1426.3,799.2 1434.3,800.7 1442.2,802.2 1450.1,803.6 1458.0,805.1 1466.0,806.5 1473.9,808.0 1481.8,809.5 1489.7,810.9 1497.7,812.4 1505.6,813.8 1513.5,815.3 1521.4,816.7 1529.4,818.2 1537.3,819.6 1545.2,821.1 1553.1,822.5 1561.1,824.0 1569.0,825.4 1576.9,826.9 1584.8,828.3 1592.7,829.7 1600.7,831.2 1608.6,832.6 1616.5,834.0 1624.4,835.4 1632.4,836.8 1640.3,838.2 1648.2,839.6 1656.1,841.0 1664.1,842.4 1672.0,843.8 1679.9,845.2 1687.8,846.5 1695.8,847.8 1703.7,849.2 1711.6,850.5 1719.5,851.7 1727.4,853.0 1735.4,854.2 1743.3,855.4 1751.2,856.6 1759.1,857.7 1767.1,858.7 1775.0,859.7 1782.9,860.6 1790.8,861.5 1798.8,862.2 1806.7,862.9 1814.6,863.5 1822.5,864.0 1830.5,864.5 1838.4,864.9 1846.3,865.2 1854.2,865.5 1862.2,865.7 1870.1,865.9 1878.0,866.0" stroke="#2a2a2a" stroke-width="1.9" fill="none" stroke-dasharray="2 2"/>
<polyline points="1410.5,877.4 1418.4,877.3 1426.3,877.1 1434.2,877.0 1442.2,876.9 1450.1,876.8 1458.0,876.7 1465.9,876.6 1473.8,876.5 1481.7,876.4 1489.7,876.3 1497.6,876.2 1505.5,876.1 1513.4,876.0 1521.3,876.0 1529.2,875.9 1537.1,875.8 1545.1,875.7 1553.0,875.6 1560.9,875.5 1568.8,875.4 1576.7,875.4 1584.6,875.3 1592.6,875.2 1600.5,875.2 1608.4,875.1 1616.3,875.0 1624.2,875.0 1632.1,874.9 1640.0,874.9 1648.0,874.9 1655.9,874.9 1663.8,874.8 1671.7,874.8 1679.6,874.9 1687.5,874.9 1695.4,874.9 1703.4,875.0 1711.3,875.1 1719.2,875.2 1727.1,875.3 1735.0,875.5 1742.9,875.7 1750.9,875.9 1758.8,876.2 1766.7,876.6 1774.6,877.0 1782.5,877.4 1790.4,878.0 1798.3,878.6 1806.3,879.3 1814.2,880.1 1822.1,880.9 1830.0,881.8 1837.9,882.8 1845.8,883.9 1853.8,884.9 1861.7,886.1 1869.6,887.2 1877.5,888.5" stroke="#2a2a2a" stroke-width="1.9" fill="none" stroke-dasharray="2 2"/>
<g fill="none" stroke="#262626" stroke-width="1.75">
<circle cx="1524.2" cy="623.6" r="2.7"/>
<circle cx="1497.5" cy="642.2" r="2.7"/>
<circle cx="1497.0" cy="662.3" r="2.7"/>
<circle cx="1591.6" cy="672.6" r="2.7"/>
<circle cx="1516.4" cy="698.4" r="2.7"/>
<circle cx="1589.0" cy="725.9" r="2.7"/>
<circle cx="1527.4" cy="763.1" r="2.7"/>
<circle cx="1468.5" cy="799.3" r="2.7"/>
<circle cx="1469.5" cy="800.3" r="2.7"/>
<circle cx="1476.3" cy="805.2" r="2.7"/>
<circle cx="1527.0" cy="819.3" r="2.7"/>
<circle cx="1528.0" cy="820.3" r="2.7"/>
<circle cx="1510.1" cy="827.8" r="2.7"/>
<circle cx="1507.1" cy="830.9" r="2.7"/>
<circle cx="1516.2" cy="829.5" r="2.7"/>
<circle cx="1510.1" cy="851.2" r="2.7"/>
<circle cx="1499.8" cy="857.6" r="2.7"/>
<circle cx="1411.4" cy="859.9" r="2.7"/>
<circle cx="1480.8" cy="863.0" r="2.7"/>
<circle cx="1480.1" cy="866.7" r="2.7"/>
<circle cx="1485.7" cy="879.3" r="2.7"/>
<circle cx="1524.5" cy="880.1" r="2.7"/>
<circle cx="1469.2" cy="890.4" r="2.7"/>
<circle cx="1523.2" cy="890.4" r="2.7"/>
<circle cx="1524.9" cy="894.9" r="2.7"/>
<circle cx="1478.0" cy="898.1" r="2.7"/>
<circle cx="1481.0" cy="907.2" r="2.7"/>
<circle cx="1522.8" cy="908.1" r="2.7"/>
<circle cx="1476.1" cy="942.7" r="2.7"/>
<circle cx="1659.4" cy="867.6" r="2.7"/>
<circle cx="1663.4" cy="882.0" r="2.7"/>
<circle cx="1661.1" cy="886.0" r="2.7"/>
<circle cx="1660.9" cy="896.3" r="2.7"/>
<circle cx="1656.3" cy="902.4" r="2.7"/>
<circle cx="1671.8" cy="898.9" r="2.7"/>
<circle cx="1679.8" cy="901.1" r="2.7"/>
<circle cx="1675.6" cy="926.7" r="2.7"/>
<circle cx="1743.2" cy="893.8" r="2.7"/>
<circle cx="1763.0" cy="893.4" r="2.7"/>
<circle cx="1748.1" cy="915.8" r="2.7"/>
<circle cx="1805.8" cy="844.3" r="2.7"/>
<circle cx="1783.6" cy="852.5" r="2.7"/>
<circle cx="1807.2" cy="855.3" r="2.7"/>
<circle cx="1812.0" cy="862.3" r="2.7"/>
<circle cx="1787.7" cy="864.4" r="2.7"/>
<circle cx="1804.2" cy="869.3" r="2.7"/>
<circle cx="1855.6" cy="864.2" r="2.7"/>
<circle cx="1867.0" cy="863.2" r="2.7"/>
<circle cx="1809.3" cy="880.4" r="2.7"/>
<circle cx="1855.3" cy="879.1" r="2.7"/>
<circle cx="1860.8" cy="886.9" r="2.7"/>
<circle cx="1878.6" cy="880.4" r="2.7"/>
</g>
<g fill="#02050d">
<rect x="6" y="3" width="1937" height="3"/>
<rect x="6" y="1039.5" width="1937" height="2.7"/>
<rect x="6" y="3" width="2.9" height="1039"/>
<rect x="1939.7" y="3" width="3.1" height="1039"/>
<rect x="650.2" y="3" width="4.8" height="1039"/>
<rect x="1294" y="3" width="4.6" height="1039"/>
<rect x="6" y="520.9" width="1937" height="4.2"/>
</g>
</svg>
</body></html>
